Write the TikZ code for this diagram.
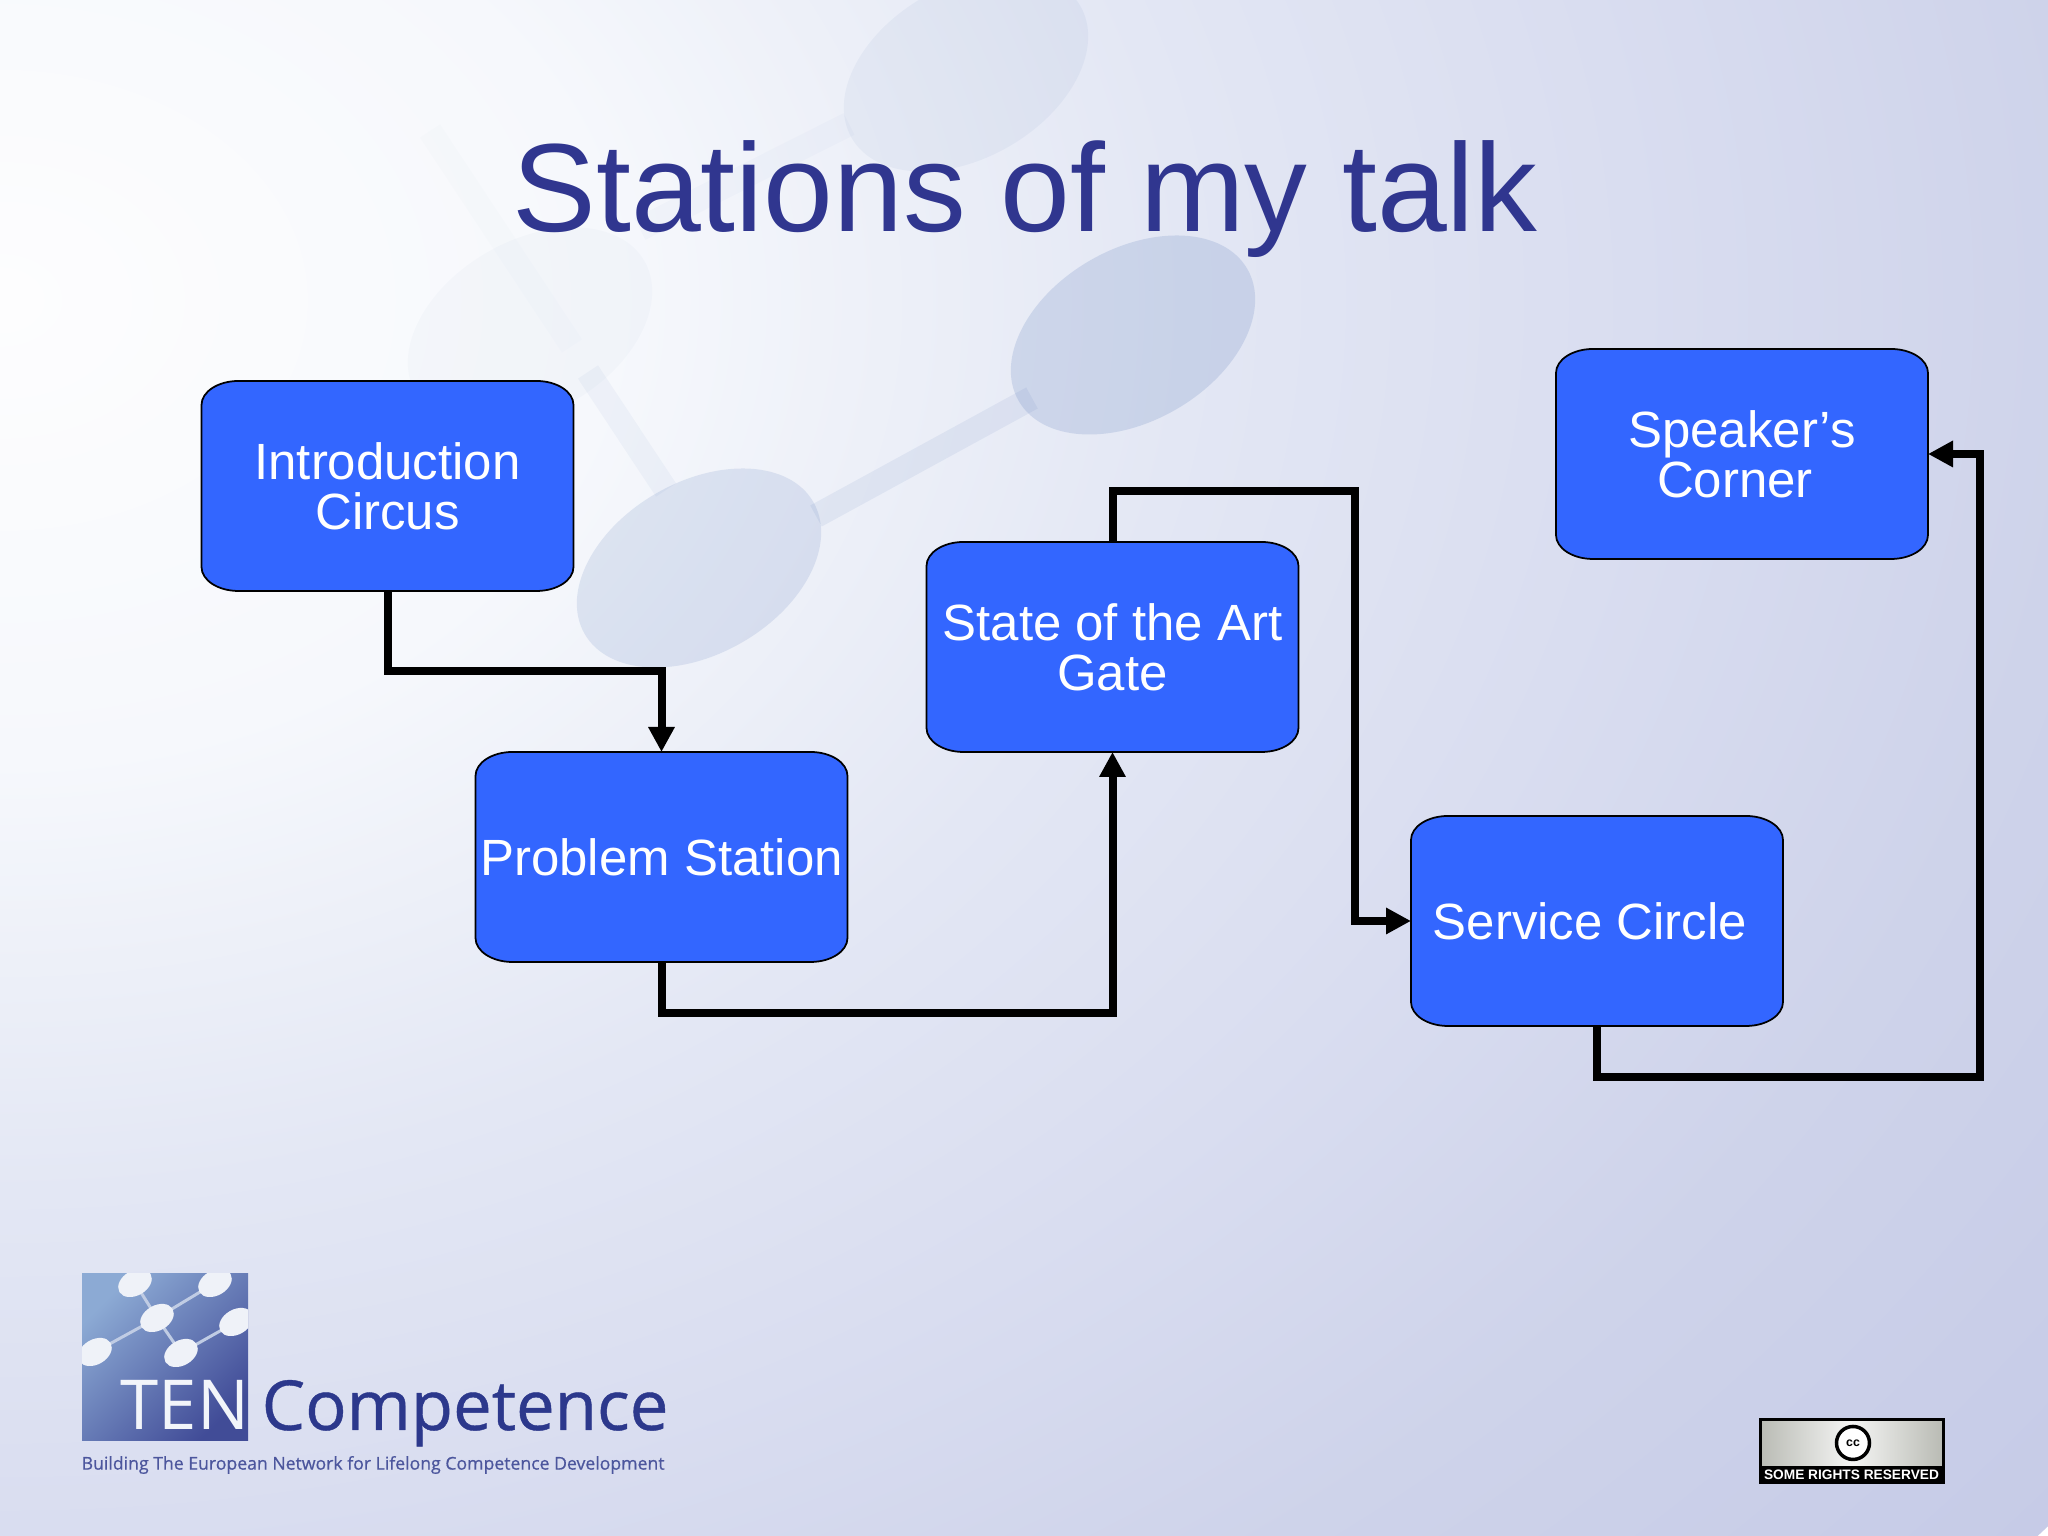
\documentclass[tikz,border=0pt]{standalone}
\usepackage{fontspec}
\setmainfont{Liberation Sans}
\newfontfamily\logofont{Open Sans}
\newfontfamily\logofontbold[FakeBold=0.6]{Open Sans}
\usetikzlibrary{arrows.meta}

\definecolor{titleblue}{HTML}{30368F}
\definecolor{stationblue}{HTML}{3366FF}
\definecolor{markblue}{HTML}{6080BC}
\definecolor{logonavy}{HTML}{2C388C}
\definecolor{logolight}{HTML}{8CAAD4}
\definecolor{badgegray}{HTML}{B9BBB4}
\definecolor{washa}{HTML}{FDFDFE}
\definecolor{washb}{HTML}{F6F8FC}
\definecolor{washc}{HTML}{E3E7F4}
\definecolor{washd}{HTML}{D9DDF0}
\definecolor{washe}{HTML}{CED3EA}
\definecolor{washf}{HTML}{C6CBE7}

\pgfdeclareradialshading{slidewash}{\pgfpointorigin}{
	color(0bp)=(washa);
	color(5.86bp)=(washb);
	color(11.35bp)=(washc);
	color(15.6bp)=(washd);
	color(19.9bp)=(washe);
	color(25bp)=(washf);
	color(50bp)=(washf)}

\tikzset{
	stationtext/.style={minimum width=3.72cm,minimum height=2.1cm,inner sep=0,outer sep=0,
		align=center,text=white,font=\fontsize{14.5}{14.2}\selectfont},
	stationbox/.style={fill=stationblue,draw=black,line width=0.5pt},
	link/.style={->,line width=0.08cm},
	marklink/.style={markblue,line width=0.24cm},
	logolink/.style={white!60!markblue,line width=0.03cm},
	logoblob/.style={fill=white!90!markblue},
}

% box with flattened corners, node goes on top so the links can use its anchors
\newcommand{\station}[3]{
	\begin{scope}[shift={(#2)}]
		\draw[stationbox] (-1.49,1.05) -- (1.49,1.05)
			arc[start angle=90,end angle=0,x radius=0.37,y radius=0.24] -- (1.86,-0.81)
			arc[start angle=0,end angle=-90,x radius=0.37,y radius=0.24] -- (-1.49,-1.05)
			arc[start angle=-90,end angle=-180,x radius=0.37,y radius=0.24] -- (-1.86,0.81)
			arc[start angle=180,end angle=90,x radius=0.37,y radius=0.24] -- cycle;
	\end{scope}
	\node[stationtext] (#1) at (#2) {#3};
}
\newcommand{\markblob}[3]{
	\fill[markblue,opacity=#3,rotate around={30:(#1,#2)}] (#1,#2) ellipse (1.32 and 0.86);
}

\begin{document}
\begin{tikzpicture}[>={Triangle[length=0.25cm,width=0.25cm]}]
	\useasboundingbox (0,0) rectangle (20.48,15.36);

	% background and watermark
	\begin{scope}
		\clip (0,0) rectangle (20.48,15.36);
		\shade[shading=slidewash] (0,12.36) ellipse (26.2 and 19.66);
		\draw[marklink,opacity=0.015] (4.3,14.05) -- (5.72,11.9);
		\draw[marklink,opacity=0.03] (6.4,13.07) -- (8.49,14.12);
		\markblob{5.30}{12.09}{0.03}
		\markblob{9.66}{14.64}{0.07}
		\draw[marklink,opacity=0.10] (8.16,10.20) -- (10.32,11.38);
		\draw[marklink,opacity=0.06] (5.88,11.64) -- (6.66,10.46);
		\markblob{6.99}{9.68}{0.16}
		\markblob{11.33}{12.01}{0.20}
	\end{scope}

	\node[text=titleblue,font=\fontsize{35.7}{36}\selectfont,anchor=base] (title) at (10.25,13.04) {Stations of my talk};

	\station{intro}{3.875,10.50}{Introduction\\Circus}
	\station{problem}{6.615,6.79}{Problem Station}
	\station{state}{11.125,8.89}{State of the Art\\Gate}
	\station{service}{15.97,6.15}{Service Circle\hspace*{0.14cm}}
	\station{speaker}{17.42,10.82}{Speaker’s\\Corner\hspace*{0.14cm}}

	\draw[link] (intro.south) -- ++(0,-0.80) -| (problem.north);
	\draw[link] (problem.south) -- ++(0,-0.51) -| (state.south);
	\draw[link] (state.north) -- ++(0,0.51) -- ++(2.42,0) |- (service.west);
	\draw[link] (service.south) -- ++(0,-0.51) -- ++(3.83,0) |- (speaker.east);

	% logo
	\begin{scope}
		\clip (0.82,0.95) rectangle (2.48,2.62);
		\shade[top color=logolight,bottom color=logonavy!90!white,shading angle=45] (0.82,0.95) rectangle (2.48,2.62);
		\draw[logolink] (1.35,2.53) -- (1.57,2.18) -- (1.81,1.83);
		\draw[logolink] (0.95,1.84) -- (1.57,2.18) -- (2.15,2.53);
		\draw[logolink] (1.81,1.83) -- (2.36,2.14);
		\foreach \bx/\by in {1.35/2.53,2.15/2.53,1.57/2.18,2.36/2.14,0.95/1.84,1.81/1.83}
			\fill[logoblob,rotate around={30:(\bx,\by)}] (\bx,\by) ellipse (0.18 and 0.125);
	\end{scope}
	\node[text=white!92!markblue,font=\logofont\fontsize{19.6}{20}\selectfont,anchor=base] (logoten) at (1.85,1.06) {TEN};
	\node[text=logonavy,font=\logofontbold\fontsize{19.6}{20}\selectfont,anchor=base west,inner sep=0] (logoname) at (2.61,1.06) {Competence};
	\node[text=logonavy!85!white,font=\logofontbold\fontsize{5.02}{5}\selectfont,anchor=west,inner sep=0] (logotag) at (0.81,0.71) {Building The European Network for Lifelong Competence Development};

	% licence badge
	\shade[left color=badgegray,right color=badgegray,middle color=white!85!badgegray,draw=black,line width=0.03cm] (17.60,0.53) rectangle (19.43,1.165);
	\fill[black] (17.60,0.53) rectangle (19.43,0.70);
	\node[text=white,font=\bfseries\fontsize{3.9}{5}\selectfont,inner sep=0] (badgetext) at (18.515,0.615) {SOME RIGHTS RESERVED};
	\node[circle,draw=black,fill=white,line width=0.035cm,minimum size=0.33cm,inner sep=0,font=\bfseries\fontsize{3.5}{4}\selectfont] (badgecc) at (18.53,0.93) {cc};
\end{tikzpicture}
\end{document}
